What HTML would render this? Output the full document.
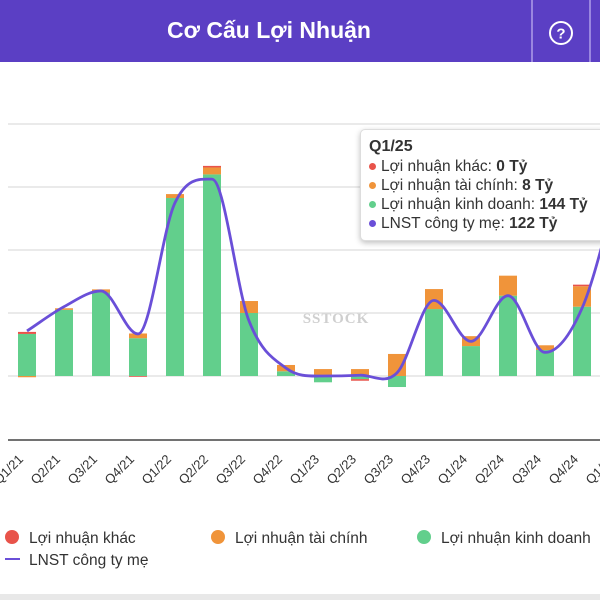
<!DOCTYPE html>
<html><head><meta charset="utf-8"><style>
body{margin:0;width:600px;height:600px;overflow:hidden;background:#fff;font-family:"Liberation Sans","Noto Sans CJK SC",sans-serif;position:relative}
#hdr{position:absolute;left:0;top:0;width:600px;height:62px;background:#5b3fc4}
#title{position:absolute;left:0;width:538px;top:17px;text-align:center;color:#fff;font-weight:bold;font-size:23px}
.div{position:absolute;top:0;height:62px;width:2px;background:#9a86e0}
#tip{position:absolute;left:360px;top:129px;width:260px;height:110px;background:#fff;border:1px solid #ddd;border-radius:5px;box-shadow:0 2px 6px rgba(0,0,0,.25);font-size:15.5px;color:#333}
#tip div{position:absolute;left:8px;white-space:nowrap}
.dot{display:inline-block;width:7px;height:7px;border-radius:50%;margin-right:5px;vertical-align:middle}
</style></head><body>
<div id="hdr">
<div id="title">Cơ Cấu Lợi Nhuận</div>
<div class="div" style="left:531px"></div>
<div class="div" style="left:589px"></div>
<svg style="position:absolute;left:548px;top:20px" width="26" height="26"><circle cx="13" cy="13" r="11" fill="none" stroke="#fff" stroke-width="2"/><text x="13" y="18.5" text-anchor="middle" fill="#fff" font-size="15" font-weight="bold" font-family="Liberation Sans">?</text></svg>
</div>
<svg id="chart" width="600" height="600" style="position:absolute;left:0;top:0"></svg>
<div id="tip">
<div style="top:8px;font-weight:bold;font-size:16px">Q1/25</div>
<div style="top:28px"><span class="dot" style="background:#e8534a"></span>Lợi nhuận khác: <b>0 Tỷ</b></div>
<div style="top:47px"><span class="dot" style="background:#f0943a"></span>Lợi nhuận tài chính: <b>8 Tỷ</b></div>
<div style="top:66px"><span class="dot" style="background:#62cf8c"></span>Lợi nhuận kinh doanh: <b>144 Tỷ</b></div>
<div style="top:85px"><span class="dot" style="background:#6a4fd8"></span>LNST công ty mẹ: <b>122 Tỷ</b></div>
</div>
<script>
const categories=["Q1/21","Q2/21","Q3/21","Q4/21","Q1/22","Q2/22","Q3/22","Q4/22","Q1/23","Q2/23","Q3/23","Q4/23","Q1/24","Q2/24","Q3/24","Q4/24","Q1/25"];
const kinhDoanh=[26.7,42,53,24,113,128,40,3,-4,-2,-7,42.5,19,51,16.5,44,144];
const taiChinh=[-0.8,1,2,3,2.5,4.4,7.6,4,4.4,4.4,14,12.7,6.3,12.7,3,13,8];
const khac=[1.3,0,0,-0.5,0,1,0,0,0,-1,0,0,0,0,0,1,0];
const lnst=[28.6,44,54,26.7,110,125,35,5,0,0.5,2,48,22,51,15,43,122];
const gridVals=[0,40,80,120,160];
const svg=document.getElementById('chart');const NS='http://www.w3.org/2000/svg';
const x0=27,step=37,zeroY=376,pxPer=63/40,bw=18;
const X=i=>x0+i*step;const Y=v=>zeroY-v*pxPer;
function mk(t,a){const e=document.createElementNS(NS,t);for(const k in a)e.setAttribute(k,a[k]);svg.appendChild(e);return e;}
const cp=mk('clipPath',{id:'cp'});
const cr=document.createElementNS(NS,'rect');cr.setAttribute('x',8);cr.setAttribute('y',62);cr.setAttribute('width',592);cr.setAttribute('height',400);cp.appendChild(cr);
gridVals.forEach(v=>{const l=mk('line',{x1:8,x2:600,y1:Y(v),y2:Y(v),stroke:'#e4e4e4','stroke-width':1.5});

});
const g=mk('g',{'clip-path':'url(#cp)'});
function seg(i,v,base,color,name){const y1=Y(base),y2=Y(base+v);const r=document.createElementNS(NS,'rect');
r.setAttribute('x',X(i)-bw/2);r.setAttribute('width',bw);r.setAttribute('y',Math.min(y1,y2));r.setAttribute('height',Math.abs(y1-y2));r.setAttribute('fill',color);


g.appendChild(r);}
categories.forEach((c,i)=>{let pos=0,neg=0;
[[kinhDoanh[i],'#62cf8c','bar-kinh-doanh'],[taiChinh[i],'#f0943a','bar-tai-chinh'],[khac[i],'#e8534a','bar-khac']].forEach(([v,col,n])=>{
if(v>=0){seg(i,v,pos,col,n);pos+=v;}else{seg(i,v,neg,col,n);neg+=v;}});});
const wm=mk('text',{x:336,y:323,'text-anchor':'middle','font-size':15,'font-weight':'bold',fill:'#cfcfcf','font-family':'Liberation Serif','letter-spacing':'1'});wm.textContent='SSTOCK';


const pts=lnst.map((v,i)=>[X(i),Y(v)]);const n=pts.length;
const dx=[],sl=[];for(let i=0;i<n-1;i++){dx[i]=pts[i+1][0]-pts[i][0];sl[i]=(pts[i+1][1]-pts[i][1])/dx[i];}
const m=[sl[0]];for(let i=1;i<n-1;i++){m[i]=(sl[i-1]*sl[i]<=0)?0:(sl[i-1]+sl[i])/2;}m[n-1]=sl[n-2];
let d='M'+pts[0][0]+','+pts[0][1];
for(let i=0;i<n-1;i++){const h=dx[i]/3;d+=` C${pts[i][0]+h},${pts[i][1]+m[i]*h} ${pts[i+1][0]-h},${pts[i+1][1]-m[i+1]*h} ${pts[i+1][0]},${pts[i+1][1]}`;}
const p=document.createElementNS(NS,'path');p.setAttribute('d',d);p.setAttribute('fill','none');p.setAttribute('stroke','#6a4fd8');p.setAttribute('stroke-width',2.8);


g.appendChild(p);
const ax=mk('line',{x1:8,x2:600,y1:440,y2:440,stroke:'#444','stroke-width':1.5});


categories.forEach((c,i)=>{const tx=X(i)-3,ty=460;const t=mk('text',{x:tx,y:ty,'text-anchor':'end','font-size':13,fill:'#333','font-family':'Liberation Sans',transform:`rotate(-45 ${tx} ${ty})`});t.textContent=c;

});
const leg=[[12,537,'#e8534a','Lợi nhuận khác'],[218,537,'#f0943a','Lợi nhuận tài chính'],[424,537,'#62cf8c','Lợi nhuận kinh doanh']];
leg.forEach(([x,y,c,t])=>{const ci=mk('circle',{cx:x,cy:y,r:7,fill:c});


const tx=mk('text',{x:x+17,y:y+6,'font-size':15.5,fill:'#333','font-family':'Liberation Sans'});tx.textContent=t;

});
const ll=mk('line',{x1:5,x2:20,y1:559,y2:559,stroke:'#6a4fd8','stroke-width':2});


const lt=mk('text',{x:29,y:565,'font-size':15.5,fill:'#333','font-family':'Liberation Sans'});lt.textContent='LNST công ty mẹ';


const bl=mk('rect',{x:0,y:594,width:600,height:6,fill:'#e8e8e8'});


</script>
</body></html>
